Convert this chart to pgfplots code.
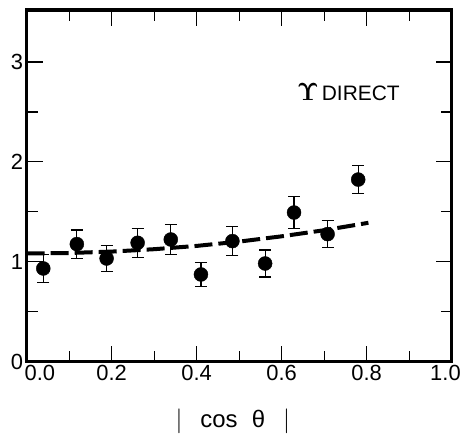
\documentclass[border=0pt]{standalone}
\usepackage{fontspec}
\setmainfont{Liberation Sans}
\usepackage{pgfplots}
\pgfplotsset{compat=1.18}

\begin{document}
\begin{tikzpicture}
\useasboundingbox (-26.7bp,-72.3bp) rectangle (434.3bp,361.7bp);
% ── Upsilon direct: angular distribution in |cos theta| ──
\begin{axis}[
    scale only axis,
    width=425bp, height=351.7bp,
    xmin=0, xmax=1, ymin=0, ymax=3.52,
    xtick={0,0.2,0.4,0.6,0.8,1.0},
    xticklabels={{\rlap{\kern-2bp 0.0}},0.2,0.4,0.6,0.8,{\llap{1.0\kern-9bp}}},
    minor xtick={0.1,0.3,0.5,0.7,0.9},
    ytick={0,1,2,3}, yticklabels={0,1,2,3},
    minor ytick={0.5,1.5,2.5},
    major tick length=16bp, minor tick length=11bp,
    every tick/.style={black, line width=1.2pt},
    axis line style={line width=3.6pt},
    tick label style={font=\fontsize{22}{24}\selectfont},
    /pgf/number format/assume math mode=true,
    xlabel={$|$\hspace{0.75em}cos\hspace{0.6em}θ\hspace{0.75em}$|$},
    xlabel style={font=\fontsize{24}{26}\selectfont, at={(axis description cs:0.485,-0.17)}, anchor=center},
    clip=false,
]
\addplot[black, line width=4bp, dash pattern=on 18bp off 6bp] coordinates {
(0.0,1.083)(0.1,1.088)(0.2,1.102)(0.3,1.126)(0.4,1.159)
(0.5,1.202)(0.6,1.255)(0.7,1.316)(0.804,1.390)
};
\addplot[black, only marks, mark=*, mark size=7bp,
    error bars/.cd, y dir=both, y explicit,
    error bar style={line width=1.2pt},
    error mark options={rotate=90, mark size=6bp, line width=1.2pt}]
coordinates {
(0.039,0.933) +- (0,0.140)
(0.118,1.177) +- (0,0.142)
(0.188,1.033) +- (0,0.132)
(0.261,1.190) +- (0,0.145)
(0.339,1.223) +- (0,0.150)
(0.410,0.873) +- (0,0.120)
(0.484,1.207) +- (0,0.148)
(0.561,0.983) +- (0,0.135)
(0.629,1.493) +- (0,0.158)
(0.708,1.277) +- (0,0.137)
(0.780,1.823) +- (0,0.138)
};
\node[anchor=west, font=\fontsize{21}{24}\selectfont, inner sep=0pt]
    at (axis cs:0.636,2.70) {{\fontsize{26}{26}\selectfont\boldmath$\Upsilon$}\kern3bp DIRECT};
\end{axis}
\end{tikzpicture}
\end{document}
